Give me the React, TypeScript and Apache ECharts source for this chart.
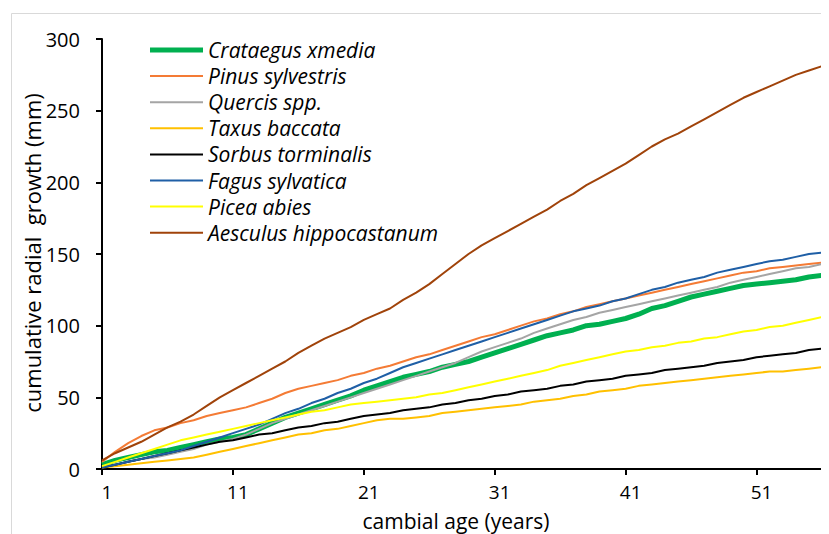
import React, { useEffect, useRef } from "react";
import * as echarts from "echarts";

const ages: string[] = Array.from({ length: 56 }, (_, i) => String(i + 1));

const crataegus = [3, 6, 8, 10, 12, 13, 15, 17, 19, 21, 22, 24, 28, 32, 36, 39, 42, 45, 48, 51, 55, 58, 61, 64, 66, 68, 71, 73, 75, 78, 81, 84, 87, 90, 93, 95, 97, 100, 101, 103, 105, 108, 112, 114, 117, 120, 122, 124, 126, 128, 129, 130, 131, 132, 134, 135];
const pinus = [5, 12, 18, 23, 27, 29, 32, 34, 37, 39, 41, 43, 46, 49, 53, 56, 58, 60, 62, 65, 67, 70, 72, 75, 78, 80, 83, 86, 89, 92, 94, 97, 100, 103, 105, 108, 110, 113, 115, 117, 119, 121, 123, 125, 127, 129, 131, 133, 135, 137, 138, 140, 141, 142, 143, 144];
const quercus = [1, 3, 5, 7, 8, 10, 12, 14, 17, 19, 21, 24, 28, 32, 35, 38, 41, 44, 47, 50, 53, 56, 59, 62, 65, 68, 71, 74, 78, 82, 85, 88, 91, 95, 98, 101, 104, 106, 109, 111, 113, 115, 117, 119, 121, 123, 125, 127, 130, 132, 134, 136, 138, 140, 141, 143];
const taxus = [1, 2, 3, 4, 5, 6, 7, 8, 10, 12, 14, 16, 18, 20, 22, 24, 25, 27, 28, 30, 32, 34, 35, 35, 36, 37, 39, 40, 41, 42, 43, 44, 45, 47, 48, 49, 51, 52, 54, 55, 56, 58, 59, 60, 61, 62, 63, 64, 65, 66, 67, 68, 68, 69, 70, 71];
const sorbus = [1, 3, 5, 7, 9, 11, 13, 15, 17, 19, 20, 22, 24, 25, 27, 29, 30, 32, 33, 35, 37, 38, 39, 41, 42, 43, 45, 46, 48, 49, 51, 52, 54, 55, 56, 58, 59, 61, 62, 63, 65, 66, 67, 69, 70, 71, 72, 74, 75, 76, 78, 79, 80, 81, 83, 84];
const fagus = [1, 3, 5, 7, 9, 11, 13, 16, 19, 22, 25, 28, 31, 35, 39, 42, 46, 49, 53, 56, 60, 63, 67, 71, 74, 77, 80, 83, 86, 89, 92, 95, 98, 101, 104, 107, 110, 112, 114, 117, 119, 122, 125, 127, 130, 132, 134, 137, 139, 141, 143, 145, 146, 148, 150, 151];
const picea = [2, 5, 8, 11, 14, 17, 20, 22, 24, 26, 28, 30, 32, 34, 36, 38, 40, 41, 43, 45, 46, 47, 48, 49, 50, 52, 53, 55, 57, 59, 61, 63, 65, 67, 69, 72, 74, 76, 78, 80, 82, 83, 85, 86, 88, 89, 91, 92, 94, 96, 97, 99, 100, 102, 104, 106];
const aesculus = [6, 11, 15, 19, 24, 29, 33, 38, 44, 50, 55, 60, 65, 70, 75, 81, 86, 91, 95, 99, 104, 108, 112, 118, 123, 129, 136, 143, 150, 156, 161, 166, 171, 176, 181, 187, 192, 198, 203, 208, 213, 219, 225, 230, 234, 239, 244, 249, 254, 259, 263, 267, 271, 275, 278, 281];

const seriesNames = [
  "Crataegus xmedia",
  "Pinus sylvestris",
  "Quercis spp.",
  "Taxus baccata",
  "Sorbus torminalis",
  "Fagus sylvatica",
  "Picea abies",
  "Aesculus hippocastanum",
];
const seriesData = [crataegus, pinus, quercus, taxus, sorbus, fagus, picea, aesculus];
const seriesColors = ["#00B050", "#F47B35", "#A5A5A5", "#FFC000", "#000000", "#1F5FA6", "#FFFF00", "#A0430A"];
const seriesWidths = [5, 2, 2, 2, 2, 2, 2, 2];

const yTicks = [0, 50, 100, 150, 200, 250, 300];

const FONT = "'Open Sans', Lato, sans-serif";

export default function App() {
  const ref = useRef<HTMLDivElement>(null);
  useEffect(() => {
    if (!ref.current) return;
    const chart = echarts.init(ref.current, undefined, { renderer: "svg" });
    chart.setOption({
      animation: false,
      backgroundColor: "#ffffff",
      textStyle: { fontFamily: FONT },
      grid: { left: 94, top: 31, right: 7, bottom: 65, containLabel: false },
      legend: {
        orient: "vertical",
        left: 142,
        top: 31,
        padding: 0,
        itemWidth: 53,
        itemHeight: 14,
        itemGap: 4.1,
        data: seriesNames.map((name, i) => ({
          name,
          icon: `path://M0,0 H53 V${seriesWidths[i]} H0 Z`,
        })),
        textStyle: { fontFamily: FONT, fontStyle: "italic", fontSize: 21, color: "#000", lineHeight: 22 },
      },
      xAxis: {
        type: "category",
        data: ages,
        boundaryGap: false,
        axisLine: { lineStyle: { color: "#000", width: 2 } },
        axisTick: { show: true, inside: false, length: 6, interval: (i: number) => i % 10 === 0, lineStyle: { color: "#000", width: 2 } },
        axisLabel: { interval: (i: number) => i % 10 === 0, margin: 13, fontSize: 19, lineHeight: 20, color: "#000", fontFamily: FONT, padding: [0, 0, 0, 10] },
        splitLine: { show: false },
      },
      yAxis: {
        type: "value",
        min: 0,
        max: 300,
        interval: 50,
        axisLine: { show: true, lineStyle: { color: "#000", width: 2 } },
        axisTick: { show: true, inside: false, length: 6, lineStyle: { color: "#000", width: 2 } },
        axisLabel: { margin: 22, fontSize: 20, color: "#000", fontFamily: FONT, formatter: (v: number) => (yTicks.includes(v) ? String(v) : "") },
        splitLine: { show: false },
      },
      graphic: [
        {
          type: "rect",
          shape: { x: 3.5, y: 5.5, width: 900, height: 700 },
          style: { fill: "none", stroke: "#d9d9d9", lineWidth: 1 },
          silent: true,
          z: -1,
        },
        {
          type: "text",
          x: 24,
          y: 245,
          rotation: Math.PI / 2,
          style: {
            text: "cumulative radial  growth (mm)",
            font: `22px ${FONT}`,
            fill: "#000",
            align: "center",
            verticalAlign: "middle",
          },
        },
        {
          type: "text",
          x: 448,
          y: 513,
          style: {
            text: "cambial age (years)",
            font: `21px ${FONT}`,
            fill: "#000",
            align: "center",
            verticalAlign: "middle",
          },
        },
      ],
      series: seriesNames.map((name, i) => ({
        name,
        type: "line",
        data: seriesData[i],
        symbol: "none",
        smooth: false,
        color: seriesColors[i],
        lineStyle: { color: seriesColors[i], width: seriesWidths[i] },
      })),
    });
    return () => chart.dispose();
  }, []);
  return <div ref={ref} style={{ width: 821, height: 526 }} />;
}
